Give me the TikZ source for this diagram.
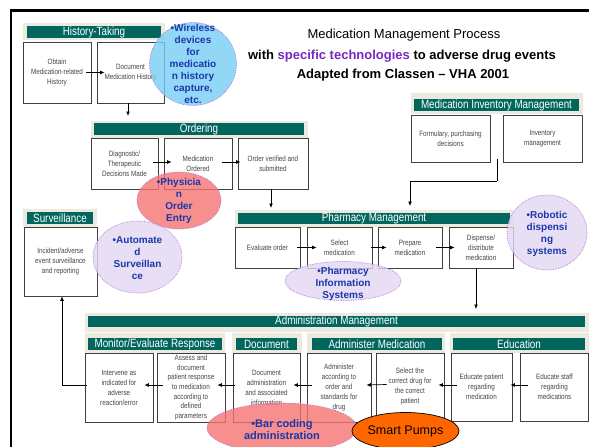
\documentclass[tikz,border=0pt]{standalone}
\usepackage{fontspec}
\setmainfont{Liberation Sans}
\newfontfamily\narrowsans[FakeStretch=0.82]{Liberation Sans}
\usetikzlibrary{shapes.geometric,arrows.meta}

\definecolor{hdrteal}{RGB}{0,102,94}
\definecolor{grpbeige}{RGB}{236,234,222}
\definecolor{boxgray}{RGB}{70,70,70}
\definecolor{techblue}{RGB}{25,55,170}
\definecolor{techpurple}{RGB}{120,40,190}
\definecolor{wirelessblue}{RGB}{120,205,245}
\definecolor{redbubble}{RGB}{245,115,115}
\definecolor{lavender}{RGB}{228,215,243}
\definecolor{bubbleline}{RGB}{175,120,215}
\definecolor{pumporange}{RGB}{255,102,0}

\begin{document}
\begin{tikzpicture}[x=1pt,y=-1pt,
  grp/.style={fill=grpbeige,draw=none,inner sep=0pt},
  hdr/.style={fill=hdrteal,text=white,inner sep=0pt,
    font=\narrowsans\fontsize{12}{12}\selectfont},
  pbox/.style={draw=black!75,line width=0.7pt,fill=white,text=boxgray,
    inner sep=0pt,align=center,font=\narrowsans\fontsize{7.7}{10}\selectfont},
  bubble/.style={ellipse,inner sep=0pt,draw=bubbleline,densely dotted,
    line width=0.7pt,fill opacity=0.8},
  bubbletext/.style={text=techblue,align=center,inner sep=0pt,
    font=\bfseries\fontsize{10}{12}\selectfont},
  arr/.style={-{Latex[length=4.5pt,width=3.8pt]},line width=0.7pt,black},
  titletext/.style={inner sep=0pt,font=\fontsize{13}{15}\selectfont}]

\useasboundingbox (0,0) rectangle (589,447);
\fill[white] (0,0) rectangle (589,447);

% outer frame (top and left edges)
\draw[line width=2.4pt] (11,447) -- (11,10.5) -- (589,10.5);

% title
\node[titletext] (title1) at (404,35) {Medication Management Process};
\node[titletext,font=\bfseries\fontsize{13}{15}\selectfont] (title2) at (402,56)
  {with \textcolor{techpurple}{specific technologies} to adverse drug events};
\node[titletext,font=\bfseries\fontsize{13}{15}\selectfont] (title3) at (403,75)
  {Adapted from Classen – VHA 2001};

% ---------------- History-Taking ----------------
\node[grp,minimum width=142,minimum height=17] (htgrp) at (94,31) {};
\node[hdr,minimum width=134,minimum height=11] (hthdr) at (94,32) {History-Taking};
\node[pbox,minimum width=68,minimum height=61] (obtain) at (57,72.5)
  {Obtain\\Medication-related\\History};
\node[pbox,minimum width=67,minimum height=61] (dochist) at (130.5,72.5)
  {Document\\Medication History};

% ---------------- Ordering ----------------
\node[grp,minimum width=217,minimum height=17] (ordgrp) at (199.5,129.5) {};
\node[hdr,minimum width=210,minimum height=12] (ordhdr) at (199,129) {Ordering};
\node[pbox,minimum width=67,minimum height=51] (diag) at (124.5,163.5)
  {Diagnostic/\\Therapeutic\\Decisions Made};
\node[pbox,minimum width=68,minimum height=51] (medord) at (198,163.5)
  {Medication\\Ordered};
\node[pbox,minimum width=70,minimum height=51] (ordver) at (273,163.5)
  {Order verified and\\submitted};

% ---------------- Surveillance ----------------
\node[grp,minimum width=74,minimum height=18] (svgrp) at (60,218) {};
\node[hdr,minimum width=66,minimum height=12] (svhdr) at (60,218) {Surveillance};
\node[pbox,minimum width=73,minimum height=69] (incident) at (60.5,261.5)
  {Incident/adverse\\event surveillance\\and reporting};

% ---------------- Medication Inventory Management ----------------
\node[grp,minimum width=172,minimum height=21] (invgrp) at (497,103.5) {};
\node[hdr,minimum width=165,minimum height=12] (invhdr) at (496.5,105)
  {Medication Inventory Management};
\node[pbox,minimum width=79,minimum height=47] (formulary) at (450.5,138.5)
  {Formulary, purchasing\\decisions};
\node[pbox,minimum width=79,minimum height=47] (invmgmt) at (542.5,138.5)
  {Inventory\\management};

% ---------------- Pharmacy Management ----------------
\node[grp,minimum width=278,minimum height=17] (phgrp) at (374,218.5) {};
\node[hdr,minimum width=272,minimum height=11] (phhdr) at (374,218.5)
  {Pharmacy Management};
\node[pbox,minimum width=65,minimum height=41] (evalord) at (267.5,247.5)
  {Evaluate order};
\node[pbox,minimum width=65,minimum height=41] (selmed) at (339.5,247.5)
  {Select\\medication};
\node[pbox,minimum width=64,minimum height=41] (prepmed) at (410,247.5)
  {Prepare\\medication};
\node[pbox,minimum width=64,minimum height=41] (dispmed) at (481,247.5)
  {Dispense/\\distribute\\medication};

% ---------------- Administration Management ----------------
\node[grp,minimum width=504,minimum height=19] (admgrp) at (337,322.5) {};
\node[hdr,minimum width=497,minimum height=11] (admhdr) at (336.5,321.5)
  {Administration Management};

\node[grp,minimum width=140,minimum height=20] (mongrp) at (155,343) {};
\node[hdr,minimum width=134,minimum height=12] (monhdr) at (155,344)
  {Monitor/Evaluate Response};
\node[grp,minimum width=70,minimum height=20] (docgrp) at (267,343) {};
\node[hdr,minimum width=61,minimum height=12] (dochdr) at (266.5,344) {Document};
\node[grp,minimum width=138,minimum height=20] (amgrp) at (376,343) {};
\node[hdr,minimum width=130,minimum height=12] (amhdr) at (377,344)
  {Administer Medication};
\node[grp,minimum width=139,minimum height=20] (edugrp) at (519.5,343) {};
\node[hdr,minimum width=132,minimum height=12] (eduhdr) at (519,344) {Education};

\node[pbox,minimum width=68,minimum height=69] (intervene) at (119,387.5)
  {Intervene as\\indicated for\\adverse\\reaction/error};
\node[pbox,minimum width=68,minimum height=69,
  font=\narrowsans\fontsize{7.7}{9.6}\selectfont] (assess) at (191,387.5)
  {Assess and\\document\\patient response\\to medication\\according to\\defined\\parameters};
\node[pbox,minimum width=67,minimum height=69] (docadmin) at (266.5,387.5)
  {Document\\administration\\and associated\\information};
\node[pbox,minimum width=64,minimum height=69] (administer) at (339,387.5)
  {Administer\\according to\\order and\\standards for\\drug};
\node[pbox,minimum width=68,minimum height=68] (seldrug) at (410,387)
  {Select the\\correct drug for\\the correct\\patient};
\node[pbox,minimum width=61,minimum height=68] (edupat) at (481.5,387)
  {Educate patient\\regarding\\medication};
\node[pbox,minimum width=68.5,minimum height=68] (edustaff) at (554.5,387)
  {Educate staff\\regarding\\medications};

% ---------------- connectors ----------------
\draw[arr] ([xshift=-5]obtain.east) -- ([xshift=8]dochist.west);
\coordinate (ordin) at (128,116);
\draw[arr] (dochist.south -| ordin) -- (ordin);

\draw[arr] ([xshift=-5,yshift=1.5]diag.east) -- ([xshift=8,yshift=1.5]medord.west);
\draw[arr] ([xshift=-10,yshift=1.5]medord.east) -- ([xshift=3,yshift=1.5]ordver.west);
\coordinate (phin1) at (271,208);
\draw[arr] (ordver.south -| phin1) -- (phin1);

\coordinate (invgap) at (497,159);
\coordinate (phin2) at (410,206);
\draw[line width=0.7pt] (invgap) -- ++(0,22) coordinate (invbend);
\draw[arr] (invbend) -| (phin2);

\draw[arr] ([xshift=-3]evalord.east) -- ([xshift=10]selmed.west);
\draw[arr] ([xshift=-1]selmed.east) -- ([xshift=9]prepmed.west);
\draw[arr] ([xshift=-6]prepmed.east) -- ([xshift=6]dispmed.west);
\coordinate (admin) at (476,309);
\draw[arr] (dispmed.south -| admin) -- (admin);

\draw[arr] ([xshift=8,yshift=2]edustaff.west) -- ([xshift=-2,yshift=2]edupat.east);
\draw[arr] ([xshift=6,yshift=2]edupat.west) -- ([xshift=-6,yshift=2]seldrug.east);
\draw[arr] ([xshift=11,yshift=2.5]seldrug.west) -- ([xshift=-5,yshift=2.5]administer.east);
\draw[arr] ([xshift=5,yshift=2.5]administer.west) -- ([xshift=-7,yshift=2.5]docadmin.east);
\draw[arr] ([xshift=2,yshift=2.5]docadmin.west) -- ([xshift=-8,yshift=2.5]assess.east);
\draw[arr] ([xshift=6,yshift=2.5]assess.west) -- ([xshift=-9,yshift=2.5]intervene.east);
\draw[arr] ([xshift=2,yshift=2.5]intervene.west) -| ([xshift=1.5]incident.south);

% ---------------- technology bubbles ----------------
\node[bubble,fill=wirelessblue,minimum width=87,minimum height=83] (wireless) at (193,64) {};
\node[bubbletext] (wirelesstxt) at (193,63.5)
  {•Wireless\\devices\\for\\medicatio\\n history\\capture,\\etc.};

\node[bubble,fill=redbubble,minimum width=84,minimum height=57] (poe) at (179,200.5) {};
\node[bubbletext] (poetxt) at (179,201) {•Physicia\\n\\Order\\Entry};

\node[bubble,fill=lavender,minimum width=89,minimum height=72] (autosv) at (137.5,257) {};
\node[bubbletext] (autosvtxt) at (137.5,258) {•Automate\\d\\Surveillan\\ce};

\node[bubble,fill=lavender,minimum width=80,minimum height=75] (robot) at (547,232.5) {};
\node[bubbletext] (robottxt) at (547,234) {•Robotic\\dispensi\\ng\\systems};

\node[bubble,fill=lavender,minimum width=116,minimum height=39] (pis) at (343,281) {};
\node[bubbletext] (pistxt) at (343,284) {•Pharmacy\\Information\\Systems};

\node[bubble,fill=redbubble,minimum width=150,minimum height=50] (barcode) at (282,428) {};
\node[bubbletext,font=\bfseries\fontsize{11}{12.5}\selectfont] (barcodetxt) at (282,429.5)
  {•Bar coding\\administration};

\node[ellipse,inner sep=0pt,draw=black,line width=0.7pt,fill=pumporange,
  minimum width=85,minimum height=37,font=\fontsize{12.5}{14}\selectfont]
  (pumps) at (405.5,431) {Smart Pumps};

\end{tikzpicture}
\end{document}
